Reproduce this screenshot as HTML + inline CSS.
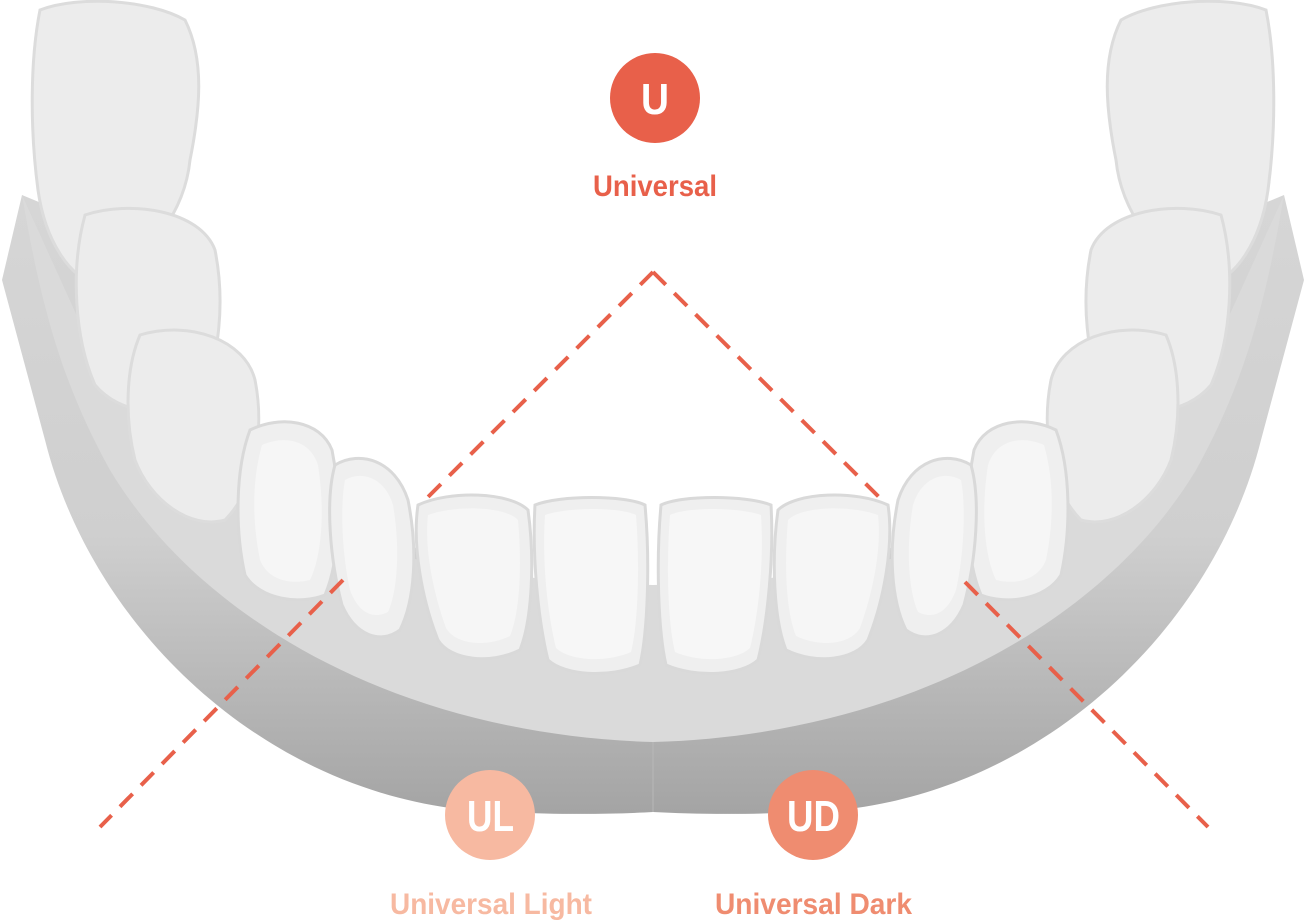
<!DOCTYPE html>
<html><head><meta charset="utf-8"><style>
html,body{margin:0;padding:0;background:#fff;}
svg{display:block}
text{font-family:"Liberation Sans Narrow","Liberation Sans",sans-serif;font-weight:bold;}
</style></head><body>
<svg width="1306" height="922" viewBox="0 0 1306 922" xmlns="http://www.w3.org/2000/svg">
<defs>
<linearGradient id="base" x1="0" y1="0" x2="0" y2="1">
<stop offset="0" stop-color="#d6d6d6"/><stop offset="0.55" stop-color="#cfcfcf"/><stop offset="1" stop-color="#a4a4a4"/>
</linearGradient>
<g id="half">
  <path d="M40,10 C80,-5 150,0 185,20 C205,60 200,110 190,160 C185,210 150,260 100,285 C70,280 45,240 38,190 C30,130 30,60 40,10Z" fill="#ececec" stroke="#dcdcdc" stroke-width="3"/>
  <path d="M85,215 C130,200 200,210 215,250 C225,300 220,360 200,395 C170,420 120,415 95,385 C75,340 70,270 85,215Z" fill="#ececec" stroke="#dcdcdc" stroke-width="3"/>
  <path d="M140,335 C190,320 245,340 255,380 C265,430 255,490 225,520 C190,530 150,500 135,460 C125,420 125,370 140,335Z" fill="#ececec" stroke="#dcdcdc" stroke-width="3"/>
  <path d="M250,430 C280,415 320,420 332,450 C342,500 340,560 325,595 C300,605 260,600 245,575 C235,530 235,470 250,430Z" fill="#efefef" stroke="#d9d9d9" stroke-width="3"/>
  <path d="M262,445 C285,435 310,440 318,465 C325,510 322,555 310,580 C290,585 268,580 260,560 C252,520 252,480 262,445Z" fill="#f6f6f6"/>
  <path d="M335,465 C360,450 395,460 408,500 C418,550 415,600 400,630 C380,645 355,635 342,605 C330,560 325,500 335,465Z" fill="#efefef" stroke="#d9d9d9" stroke-width="3"/>
  <path d="M345,480 C362,470 385,478 393,505 C400,545 398,590 388,612 C372,620 358,612 350,590 C342,555 340,505 345,480Z" fill="#f6f6f6"/>
  <path d="M418,505 C450,490 510,492 528,510 C535,560 532,620 520,650 C490,665 450,660 438,640 C422,600 412,545 418,505Z" fill="#efefef" stroke="#d9d9d9" stroke-width="3"/>
  <path d="M428,515 C455,505 505,506 518,520 C522,565 520,612 510,636 C485,648 455,644 446,628 C434,595 424,550 428,515Z" fill="#f6f6f6"/>
  <path d="M535,505 C560,495 625,495 645,505 C650,560 648,630 640,665 C610,678 565,676 548,660 C538,620 532,555 535,505Z" fill="#efefef" stroke="#d9d9d9" stroke-width="3"/>
  <path d="M545,515 C568,507 620,507 636,515 C640,565 638,625 631,652 C606,663 570,661 556,648 C547,612 542,560 545,515Z" fill="#f7f7f7"/>
</g>
</defs>
<path d="M22,195 L2,280 L45,440 C90,620 250,780 450,808 C520,815 600,815 653,812 C706,815 786,815 856,808 C1056,780 1216,620 1261,440 L1304,280 L1284,195 L1200,230 C1100,420 900,600 653,620 C406,600 206,420 106,230Z" fill="url(#base)"/>
<path d="M22,195 C40,300 60,380 110,470 C200,620 400,735 653,742 C906,735 1106,620 1196,470 C1246,380 1266,300 1284,195 L1200,380 C1100,520 900,580 653,585 C406,580 206,520 106,380Z" fill="#dadada"/>
<path d="M653,742 L653,812" stroke="#b8b8b8" stroke-width="1"/>
<use href="#half"/>
<g transform="translate(1306,0) scale(-1,1)"><use href="#half"/></g>
<g stroke="#E8604A" stroke-width="4" stroke-dasharray="18 12" fill="none">
<path d="M653,272 L422,503"/><path d="M653,272 L882,500"/>
<path d="M343,580 L100,827"/><path d="M965,582 L1208,827"/>
</g>
<circle cx="655" cy="98" r="45" fill="#E8604A"/>
<text x="641" y="114" font-size="44" fill="#fff" textLength="28" lengthAdjust="spacingAndGlyphs">U</text>
<text x="593" y="196" font-size="30" fill="#E8604A" textLength="124" lengthAdjust="spacingAndGlyphs">Universal</text>
<circle cx="490" cy="815" r="45" fill="#F7B9A1"/>
<text x="467" y="831" font-size="44" fill="#fff" textLength="47" lengthAdjust="spacingAndGlyphs">UL</text>
<text x="390" y="914" font-size="30" fill="#F7B9A1" textLength="202" lengthAdjust="spacingAndGlyphs">Universal Light</text>
<circle cx="813" cy="815" r="45" fill="#EF8C70"/>
<text x="787" y="831" font-size="44" fill="#fff" textLength="53" lengthAdjust="spacingAndGlyphs">UD</text>
<text x="715" y="914" font-size="30" fill="#EF8C70" textLength="197" lengthAdjust="spacingAndGlyphs">Universal Dark</text>
</svg>
</body></html>
